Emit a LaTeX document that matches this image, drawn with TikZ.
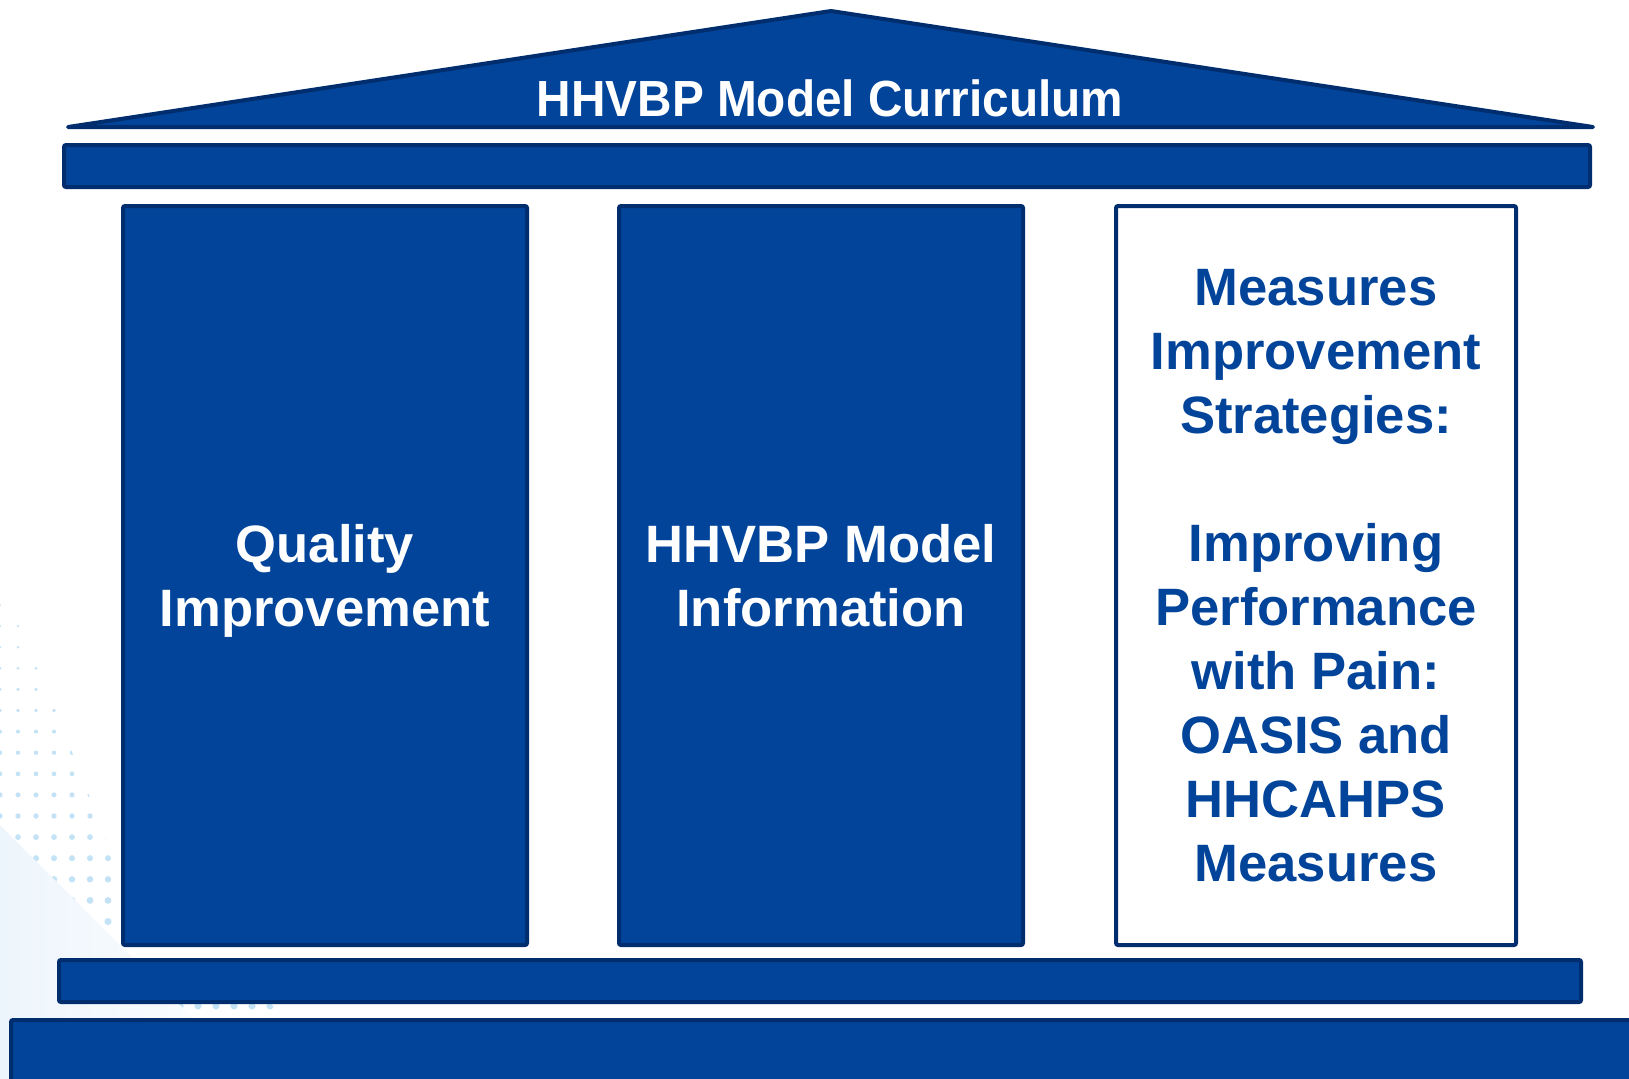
\documentclass[tikz,border=0pt]{standalone}
\usepackage{fontspec}
\setmainfont{Liberation Sans}
\usepackage{graphicx}
\usetikzlibrary{positioning}

\definecolor{pillarblue}{HTML}{01449A}
\definecolor{pillarline}{HTML}{002D6E}
\definecolor{dotblue}{HTML}{C3E2F6}
\definecolor{hazeblue}{HTML}{EDF5FC}

\begin{document}
\begin{tikzpicture}[x=0.5pt, y=-0.5pt,
    slab/.style={fill=pillarblue, draw=pillarline, line width=2pt, rounded corners=1pt},
    hollow/.style={fill=white, draw=pillarline, line width=2pt, rounded corners=1pt},
    pillartext/.style={align=center, inner sep=0pt, font=\fontsize{26.3}{32}\selectfont\bfseries}]
    % 畫布
    \useasboundingbox (0,0) rectangle (1629,1078);
    \clip (0,0) rectangle (1629,1078);
    \fill[white] (0,0) rectangle (1629,1078);

    % 左下角點陣
    \begin{scope}
      \clip (0,598) -- (12,598) -- (118,870) -- (280,1012) -- (0,1012) -- cycle;
      \foreach \k in {0,...,19} {
        \pgfmathsetmacro{\r}{min(1+0.17*\k,3.6)*0.5}
        \foreach \i in {0,...,16}
          \fill[dotblue] (18*\i, 605+21.1*\k) circle[radius=\r pt];
      }
    \end{scope}

    % 淡藍漸層
    \shade[left color=hazeblue, right color=white] (0,825) -- (262,1087) -- (0,1087) -- cycle;

    % 屋頂
    \draw[fill=pillarblue, draw=pillarline, line width=2pt, line join=round] (68,127) -- (831,11) -- (1593,127) -- cycle;

    % 橫樑
    \draw[slab] (64,145) rectangle (1590,187);

    % 柱子
    \draw[slab] (123,206) rectangle (527,945);
    \draw[slab] (619,206) rectangle (1023,945);
    \draw[hollow] (1116,206) rectangle (1516,945);

    % 台階
    \draw[slab] (59,960) rectangle (1581,1002);
    \draw[slab] (11,1020) rectangle (1660,1100);

    % 標籤
    \node[anchor=base, inner sep=0pt, text=white, font=\fontsize{25.4}{30}\selectfont\bfseries] (roof) at (830,116)
      {\scalebox{0.94}[1]{HHVBP Model Curriculum}};
    \node[pillartext, text=white] (quality) at (325,581) {Quality\\Improvement};
    \node[pillartext, text=white] (model) at (821,575.5) {HHVBP Model\\Information};
    \node[pillartext, text=pillarblue] (measures) at (1316,576)
      {Measures\\Improvement\\Strategies:\\[32pt]Improving\\Performance\\with Pain:\\OASIS and\\HHCAHPS\\Measures};
  \end{tikzpicture}
\end{document}
